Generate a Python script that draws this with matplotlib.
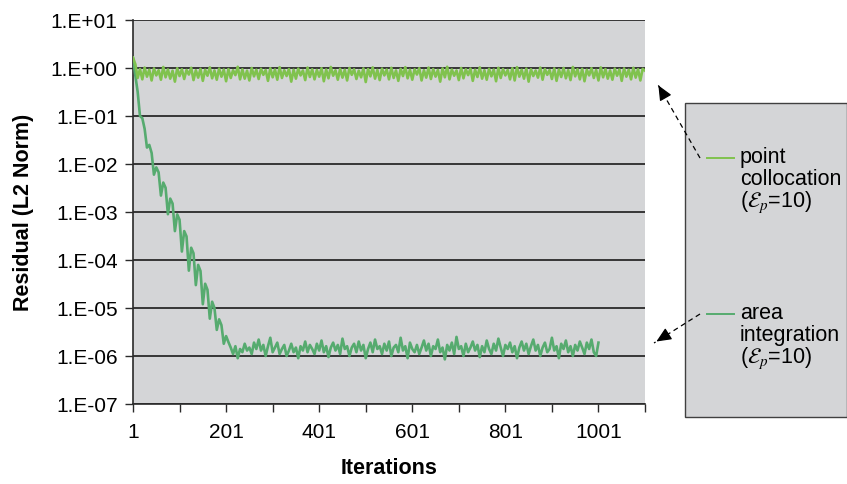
import numpy as np
import matplotlib
matplotlib.use("Agg")
import matplotlib.pyplot as plt
from matplotlib.ticker import FixedLocator, FuncFormatter, NullLocator
from matplotlib.patches import Rectangle
from matplotlib.lines import Line2D

plt.rcParams['font.family'] = ['Liberation Sans', 'DejaVu Sans']
plt.rcParams['mathtext.fontset'] = 'stix'

### point collocation residual, sampled every 5 iterations (1 .. 1101)
point_iters = np.arange(1, 1102, 5)
point_res = [
    1.65, 1.20, 0.62, 0.95, 0.58, 1.02, 0.66, 0.92, 0.55, 0.98,
    0.70, 0.90, 0.57, 1.05, 0.64, 0.93, 0.60, 0.88, 0.52, 0.99,
    0.68, 0.94, 0.59, 0.91, 0.73, 1.01, 0.56, 0.90, 0.63, 0.96,
    0.54, 0.92, 0.69, 1.03, 0.61, 0.89, 0.57, 0.97, 0.66, 0.93,
    0.53, 0.95, 0.62, 0.90, 0.71, 1.06, 0.58, 0.94, 0.60, 0.88,
    0.55, 1.00, 0.67, 0.92, 0.59, 0.96, 0.72, 0.91, 0.54, 0.99,
    0.64, 0.93, 0.57, 1.04, 0.62, 0.90, 0.68, 0.95, 0.52, 0.92,
    0.60, 0.97, 0.70, 0.89, 0.56, 1.02, 0.65, 0.94, 0.58, 0.91,
    0.66, 0.99, 0.53, 0.93, 0.61, 1.05, 0.69, 0.90, 0.57, 0.96,
    0.63, 0.92, 0.55, 1.00, 0.72, 0.94, 0.59, 0.88, 0.64, 0.98,
    0.51, 0.95, 0.67, 1.03, 0.60, 0.91, 0.56, 0.97, 0.70, 0.93,
    0.58, 1.01, 0.62, 0.89, 0.54, 0.96, 0.68, 1.04, 0.61, 0.92,
    0.57, 0.94, 0.73, 0.99, 0.55, 0.90, 0.63, 1.02, 0.59, 0.95,
    0.66, 0.91, 0.52, 0.98, 0.64, 1.06, 0.58, 0.93, 0.69, 0.89,
    0.56, 1.00, 0.61, 0.94, 0.71, 0.97, 0.54, 0.92, 0.65, 1.03,
    0.60, 0.90, 0.57, 0.96, 0.67, 0.93, 0.53, 1.01, 0.62, 0.95,
    0.70, 0.91, 0.58, 0.99, 0.55, 1.04, 0.66, 0.92, 0.60, 0.97,
    0.52, 0.94, 0.68, 0.89, 0.63, 1.02, 0.57, 0.95, 0.72, 0.91,
    0.59, 0.98, 0.54, 0.93, 0.65, 1.00, 0.61, 0.90, 0.56, 1.05,
    0.67, 0.94, 0.58, 0.96, 0.53, 0.92, 0.70, 0.99, 0.62, 0.91,
    0.55, 1.03, 0.64, 0.95, 0.60, 0.89, 0.57, 0.97, 0.69, 0.93,
    0.54, 0.98, 0.66, 0.92, 0.58, 1.01, 0.63, 0.94, 0.55, 0.96,
    0.88,
]

### area integration residual, sampled every 5 iterations (1 .. 1001)
area_iters = np.arange(1, 1002, 5)
area_decay = [
    1.6, 0.7, 0.32, 0.1, 0.09, 0.054, 0.022, 0.025, 0.017, 0.006,
    0.0085, 0.0067, 0.0022, 0.0041, 0.0032, 0.0009, 0.0019, 0.0015, 0.0004, 0.00089,
    0.00069, 0.00015, 0.0004, 0.00031, 0.00006, 0.00018, 0.000138, 0.00003, 0.000079, 0.000059,
    0.000012, 0.000032, 0.000024, 0.000006, 0.0000135, 0.00001, 0.0000035, 0.0000058, 0.0000044, 0.0000018,
    0.0000026, 0.00000195, 0.0000015,
]
# plateau, in units of 1e-6
area_tail_micro = [
    1.1, 1.6, 0.9, 1.4, 1.2, 1.8, 1.3, 1.5, 1.1, 1.9,
    1.4, 2.2, 1.3, 1.7, 1.0, 1.6, 2.4, 1.2, 1.5, 1.9,
    1.1, 1.4, 1.7, 1.0, 1.3, 1.8, 1.2, 1.5, 0.9, 1.6,
    1.3, 2.0, 1.2, 1.7, 1.4, 1.1, 1.8, 1.3, 2.1, 1.2,
    1.6, 0.95, 1.5, 1.9, 1.3, 1.7, 1.1, 2.3, 1.4, 1.6,
    1.0, 1.5, 1.8, 1.2, 2.0, 1.3, 1.7, 0.9, 1.4, 1.9,
    1.2, 2.2, 1.4, 1.6, 1.1, 1.8, 1.3, 2.0, 1.0, 1.5,
    1.7, 1.2, 2.4, 1.3, 1.6, 0.9, 1.9, 1.4, 1.2, 1.7,
    1.1, 1.5, 2.1, 1.3, 1.8, 1.0, 1.6, 1.4, 2.2, 1.2,
    1.5, 0.85, 1.7, 1.3, 1.9, 1.1, 2.5, 1.4, 1.6, 1.0,
    1.8, 1.2, 1.5, 2.0, 1.3, 1.7, 0.95, 1.6, 1.2, 2.1,
    1.4, 1.1, 1.8, 1.3, 2.3, 1.5, 1.0, 1.7, 1.4, 1.9,
    1.2, 1.6, 0.9, 1.5, 2.0, 1.3, 1.8, 1.1, 1.6, 2.2,
    1.3, 1.7, 1.0, 1.5, 1.9, 1.2, 1.4, 2.4, 1.3, 1.6,
    0.9, 1.8, 1.4, 2.1, 1.2, 1.6, 1.0, 1.7, 1.3, 2.0,
    1.5, 1.1, 1.9, 1.4, 2.2, 1.2, 1.0, 1.9,
]
area_res = np.concatenate((area_decay, np.array(area_tail_micro) * 1e-6))

y_decades = [-7, -6, -5, -4, -3, -2, -1, 0, 1]
x_ticks = list(range(1, 1102, 100))
x_labels = ['1', '', '201', '', '401', '', '601', '', '801', '', '1001', '']

legend_labels = [['point', 'collocation', r'($\mathcal{E}_p$=10)'],
                 ['area', 'integration', r'($\mathcal{E}_p$=10)']]

c_point = '#80c24e'
c_area = '#56ab6f'
c_bg = '#d4d5d7'
c_dark = '#2a2a2a'

fig = plt.figure(figsize=(8.47, 4.84), dpi=100)
ax = fig.add_axes([133 / 847, 1 - 404 / 484, 512 / 847, 384 / 484])
ax.set_facecolor(c_bg)

ax.plot(area_iters, area_res, color=c_area, lw=1.9, zorder=3)
ax.plot(point_iters, point_res, color=c_point, lw=1.9, zorder=4)

ax.set_yscale('log')
ax.set_ylim(1e-7, 1e1)
ax.set_xlim(1, 1101)
ax.yaxis.set_major_locator(FixedLocator([10.0 ** k for k in y_decades]))
ax.yaxis.set_minor_locator(NullLocator())
ax.yaxis.set_major_formatter(FuncFormatter(lambda v, p: "1.E%+03d" % int(round(np.log10(v)))))
ax.set_xticks(x_ticks)
ax.set_xticklabels(x_labels)

ax.grid(True, axis='y', color=c_dark, lw=1.3)
ax.set_axisbelow(True)
for s in ['top', 'right']:
    ax.spines[s].set_visible(False)
for s in ['left', 'bottom']:
    ax.spines[s].set_color(c_dark)
    ax.spines[s].set_linewidth(1.2)
ax.tick_params(axis='both', direction='out', length=6, width=1, color=c_dark, labelsize=15)
ax.tick_params(axis='x', pad=8)
ax.tick_params(axis='y', pad=5)

ax.set_ylabel('Residual (L2 Norm)', fontsize=15.5, fontweight='bold', labelpad=12)
ax.set_xlabel('Iterations', fontsize=15.5, fontweight='bold', labelpad=11)

### legend box drawn in figure pixels
H = 484
fig.add_artist(Rectangle((685, H - 417), 162, 314, transform=None,
                         facecolor=c_bg, edgecolor='#404040', lw=1.0))
for (ly, col, lines) in [(158, c_point, legend_labels[0]), (314, c_area, legend_labels[1])]:
    fig.add_artist(Line2D([707, 734], [H - ly, H - ly], transform=None, color=col, lw=1.4))
    for j, txt in enumerate(lines):
        fig.text(740 / 847, 1 - (ly + 5 + j * 22) / H, txt, fontsize=15.5,
                 ha='left', va='baseline')

### dashed pointer arrows
for (tail, head) in [((700, 158), (657, 83)), ((700, 314), (654, 343))]:
    tx, ty = tail[0], H - tail[1]
    hx, hy = head[0], H - head[1]
    fig.add_artist(Line2D([tx, hx], [ty, hy], transform=None, color='black', lw=0.9, ls=(0, (4, 3))))
    dx, dy = hx - tx, hy - ty
    n = np.hypot(dx, dy)
    ax.annotate('', xy=(hx, hy), xycoords='figure pixels',
                xytext=(hx - 11 * dx / n, hy - 11 * dy / n), textcoords='figure pixels',
                arrowprops=dict(arrowstyle='-|>,head_length=0.9,head_width=0.4', color='black', lw=0.9),
                annotation_clip=False)

fig.savefig('out.png', dpi=100)
